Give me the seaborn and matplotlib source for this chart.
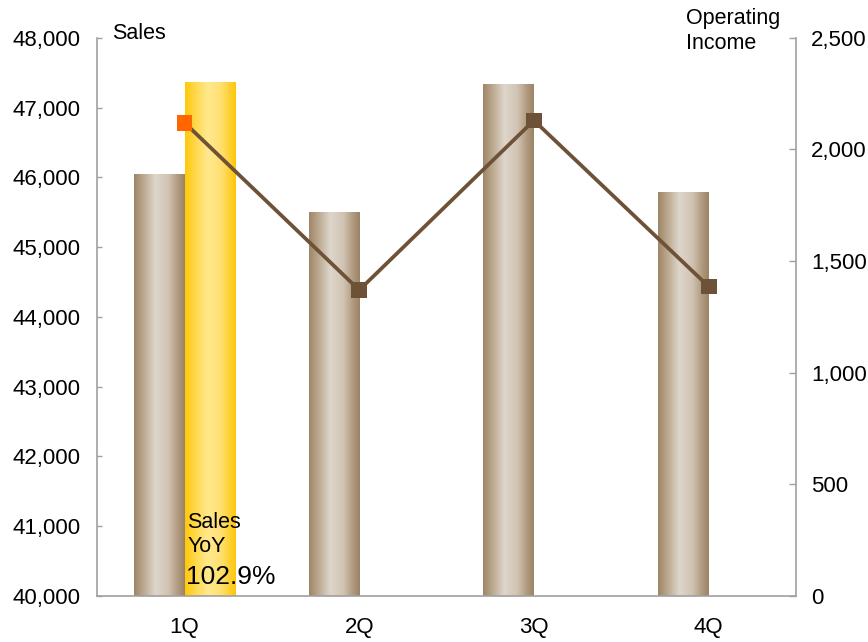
# -------------------------------------------------------
# quarterly sales (bars) and operating income (line)
# -------------------------------------------------------

import numpy as np
import pandas as pd
import seaborn as sns
import matplotlib.pyplot as plt
from matplotlib.colors import LinearSegmentedColormap
from matplotlib.ticker import FuncFormatter, MultipleLocator

quarters = ['1Q', '2Q', '3Q', '4Q']
sales = [46050, 45500, 47330, 45780]          # tan bars
sales_current = [47360]                        # gold bar, 1Q only
income = [2120, 1370, 2130, 1386]              # right axis line

sns.set_style('white')
plt.rcParams['font.family'] = ['Liberation Sans', 'DejaVu Sans']
plt.rcParams['text.color'] = 'black'
plt.rcParams['xtick.color'] = 'black'
plt.rcParams['ytick.color'] = 'black'

grey = '#A0A0A0'
brown = '#6E5238'

df = pd.DataFrame({
    'quarter': quarters + quarters[:1],
    'sales': sales + sales_current,
    'kind': ['base'] * len(quarters) + ['current'],
})

fig = plt.figure(figsize=(8.68, 6.42), dpi=100)
ax = fig.add_axes([0.112, 0.072, 0.805, 0.869])

sns.barplot(data=df, x='quarter', y='sales', hue='kind', order=quarters,
            hue_order=['base', 'current'], width=0.58, dodge=True,
            legend=False, ax=ax, palette=['#C2B29C', '#FFD84A'], linewidth=0)

# cylinder-like shading on every bar
tan_cmap = LinearSegmentedColormap.from_list('tan', [
    (0.0, '#9E8668'), (0.15, '#B6A287'), (0.42, '#DED6CB'),
    (0.68, '#D0C3B3'), (0.88, '#AE977B'), (1.0, '#9C8365')])
gold_cmap = LinearSegmentedColormap.from_list('gold', [
    (0.0, '#FFC808'), (0.2, '#FFD84A'), (0.45, '#FFE88E'),
    (0.7, '#FFE073'), (1.0, '#FFC608')])
grad = np.linspace(0, 1, 200)[None, :]
for p in list(ax.patches):
    h = p.get_height()
    if not np.isfinite(h) or h == 0:
        continue
    x0, w = p.get_x(), p.get_width()
    cm = gold_cmap if h == sales_current[0] else tan_cmap
    ax.imshow(grad, extent=[x0, x0 + w, 0, h], aspect='auto', cmap=cm,
              zorder=p.get_zorder() + 0.1, interpolation='bilinear')

ax.set_xlim(-0.5, len(quarters) - 0.5)
ax.set_ylim(40000, 48000)
ax.yaxis.set_major_locator(MultipleLocator(1000))
ax.yaxis.set_major_formatter(FuncFormatter(lambda v, _: f'{int(v):,}'))
ax.set_xlabel('')
ax.set_ylabel('')

# x: labels at centres, small ticks at category boundaries
ax.set_xticks(range(len(quarters)))
ax.set_xticklabels(quarters)
ax.set_xticks(np.arange(0.5, len(quarters) - 0.5), minor=True)
ax.tick_params(axis='x', which='major', length=0, pad=15, labelsize=16)
ax.tick_params(axis='x', which='minor', direction='in', length=4,
               width=1, color=grey)
ax.tick_params(axis='y', direction='in', length=3.5, width=1, color=grey,
               pad=12, labelsize=16, left=True)

for s in ['top', 'right']:
    ax.spines[s].set_visible(False)
for s in ['left', 'bottom']:
    ax.spines[s].set_color(grey)
    ax.spines[s].set_linewidth(1.2)

# operating income on the right axis
ax2 = ax.twinx()
pos = np.arange(len(quarters))
sns.lineplot(x=pos, y=income, color=brown, lw=2.7, ax=ax2, zorder=3)
sns.scatterplot(x=pos, y=income, hue=pos, marker='s', s=130, linewidth=0,
                palette=['#FF6600', brown, brown, brown], legend=False,
                ax=ax2, zorder=4)
ax2.set_ylim(0, 2500)
ax2.yaxis.set_major_locator(MultipleLocator(500))
ax2.yaxis.set_major_formatter(FuncFormatter(lambda v, _: f'{int(v):,}'))
ax2.tick_params(axis='y', direction='in', length=5, width=1, color=grey,
                pad=11, labelsize=16, right=True)
for s in ['top', 'left', 'bottom']:
    ax2.spines[s].set_visible(False)
ax2.spines['right'].set_color(grey)
ax2.spines['right'].set_linewidth(1.2)
ax.set_xlim(-0.5, len(quarters) - 0.5)

# annotations
ax.text(0.021, 1.008, 'Sales', transform=ax.transAxes, fontsize=15.5,
        va='center', ha='left')
ax.text(0.843, 1.012, 'Operating\nIncome', transform=ax.transAxes,
        fontsize=15.5, va='center', ha='left', linespacing=1.25)
ax.text(0.129, 0.131, 'Sales', transform=ax.transAxes, fontsize=15.5,
        va='center', ha='left', zorder=10)
ax.text(0.129, 0.088, 'YoY', transform=ax.transAxes, fontsize=15.5,
        va='center', ha='left', zorder=10)
ax.text(0.127, 0.033, '102.9%', transform=ax.transAxes, fontsize=19,
        va='center', ha='left', zorder=10)

fig.savefig('out.png', dpi=100)
